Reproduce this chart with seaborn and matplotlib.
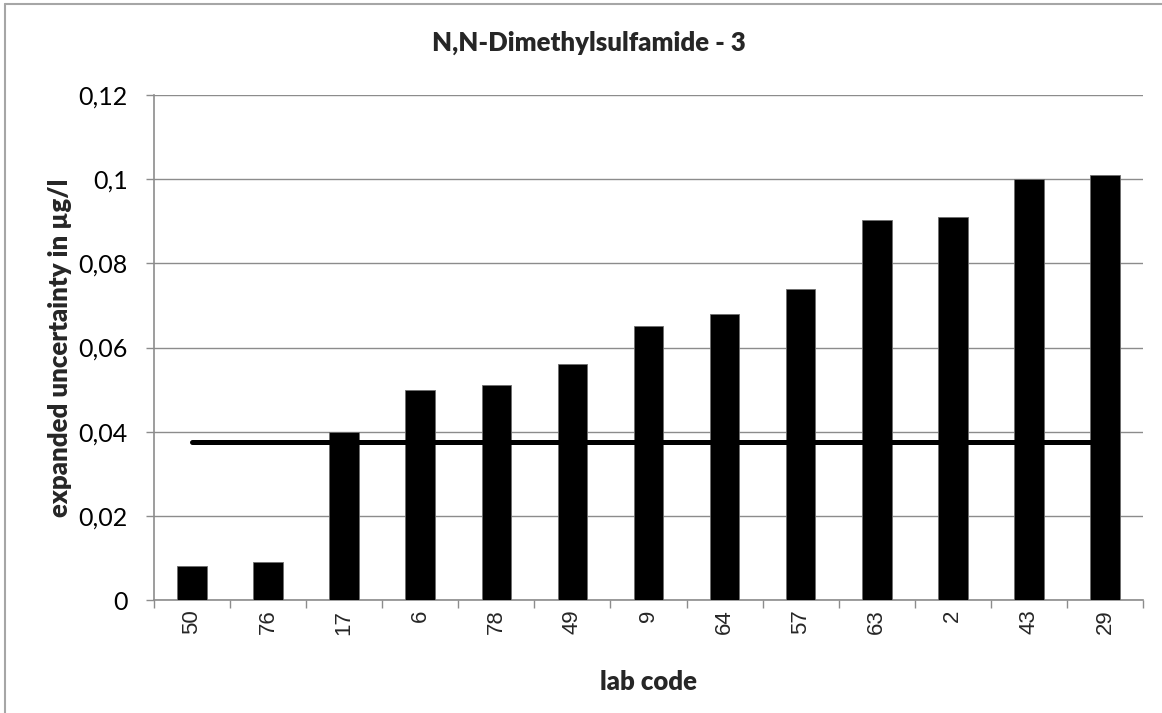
import matplotlib
matplotlib.use("Agg")
import matplotlib.pyplot as plt
from matplotlib.ticker import FuncFormatter, FixedLocator
from matplotlib.lines import Line2D
import seaborn as sns
import pandas as pd

# ---- data ----
lab_codes = ["50", "76", "17", "6", "78", "49", "9", "64", "57", "63", "2", "43", "29"]
uncertainty = [0.008, 0.009, 0.040, 0.050, 0.051, 0.056, 0.065, 0.068, 0.074, 0.0903, 0.091, 0.100, 0.101]
reference_level = 0.0375
y_ticks = [0, 0.02, 0.04, 0.06, 0.08, 0.10, 0.12]

title = "N,N-Dimethylsulfamide - 3"
x_label = "lab code"
y_label = "expanded uncertainty in µg/l"

df = pd.DataFrame({"lab": lab_codes, "u": uncertainty})

sns.set_theme(style="white")
plt.rcParams["font.family"] = ["Lato", "DejaVu Sans"]

W, H = 1162, 713
fig = plt.figure(figsize=(W / 100, H / 100), dpi=100)
ax = fig.add_axes([154 / W, 1 - 600 / H, (1143 - 154) / W, (600 - 95) / H])

grid_c = "#8c8c8c"
sns.barplot(data=df, x="lab", y="u", order=lab_codes, color="black",
            width=0.39, edgecolor="#6e6e6e", linewidth=0.6, ax=ax, zorder=3,
            saturation=1)
for p in ax.patches:
    p.set_facecolor("black")

n = len(lab_codes)
ax.plot([0, n - 1], [reference_level, reference_level], color="black",
        lw=3.6, solid_capstyle="round", zorder=4)

ax.set_xlim(-0.5, n - 0.5)
ax.set_ylim(0, 0.12)
ax.yaxis.set_major_locator(FixedLocator(y_ticks))
ax.yaxis.set_major_formatter(FuncFormatter(lambda v, _: f"{v:g}".replace(".", ",")))
ax.grid(axis="y", color=grid_c, lw=1.0, zorder=0)
ax.set_axisbelow(True)

for s in ["top", "right"]:
    ax.spines[s].set_visible(False)
for s in ["left", "bottom"]:
    ax.spines[s].set_color(grid_c)
    ax.spines[s].set_linewidth(1.2)

ax.tick_params(axis="y", which="major", direction="out", length=6, width=1,
               color=grid_c, labelsize=18, pad=13, left=True)
for lbl in ax.get_yticklabels():
    lbl.set_color("black")

ax.tick_params(axis="x", which="major", length=0, pad=7, bottom=True)
ax.set_xticks(range(n))
ax.set_xticklabels(lab_codes, rotation=90, fontsize=16,
                   family=["Liberation Sans", "DejaVu Sans"], va="top")
ax.set_xticks([i - 0.5 for i in range(n + 1)], minor=True)
ax.tick_params(axis="x", which="minor", direction="out", length=6, width=1,
               color=grid_c, bottom=True)

ax.set_xlabel("")
ax.set_ylabel("")
bold_kw = dict(fontsize=18.5, fontweight=800)
fig.text(648 / W, 1 - 682 / H, x_label, ha="center", va="center", **bold_kw)
fig.text(60 / W, 1 - 348 / H, y_label, ha="center", va="center",
         rotation=90, **bold_kw)
fig.text(589 / W, 1 - 43 / H, title, ha="center", va="center", **bold_kw)

# chart-area border (light grey, top and left visible)
border_c = "#a6a6a6"
fig.add_artist(Line2D([5 / W, 5 / W], [1 - 4 / H, 0], color=border_c, lw=1.5,
                      transform=fig.transFigure))
fig.add_artist(Line2D([5 / W, 1], [1 - 4 / H, 1 - 4 / H], color=border_c, lw=1.5,
                      transform=fig.transFigure))

fig.savefig("out.png", dpi=100)
